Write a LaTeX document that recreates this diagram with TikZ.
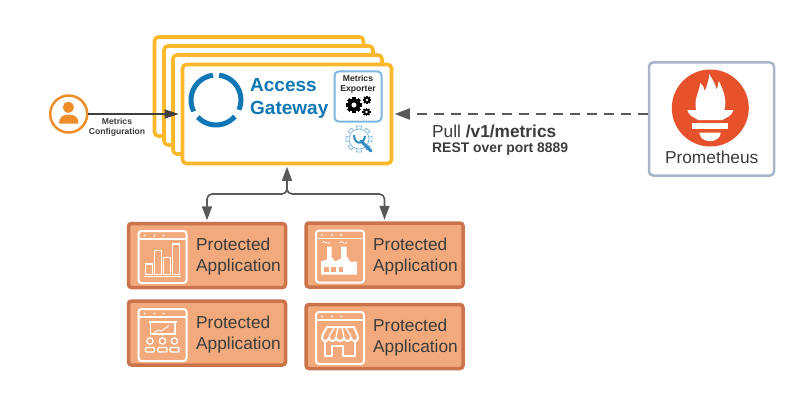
\documentclass[tikz,border=0pt]{standalone}
\usepackage{fontspec}
\setmainfont{Liberation Sans}
\usetikzlibrary{positioning,arrows.meta,calc}

\definecolor{gateyellow}{HTML}{FBB82A}
\definecolor{gateblue}{HTML}{0F78B4}
\definecolor{skyline}{HTML}{7DB6E0}
\definecolor{apporange}{HTML}{F2AA7C}
\definecolor{appedge}{HTML}{CB744C}
\definecolor{personorange}{HTML}{EE8E2A}
\definecolor{promred}{HTML}{E6522C}
\definecolor{promedge}{HTML}{A9B5C9}
\definecolor{flowgray}{HTML}{5A5A5A}
\definecolor{textdark}{HTML}{3C3C3C}

\tikzset{
    gatebox/.style={draw=gateyellow, line width=3.6pt, fill=white, rounded corners=4pt, minimum width=209pt, minimum height=99pt},
    appbox/.style={draw=appedge, line width=3.5pt, fill=apporange, rounded corners=3pt, minimum width=157pt, minimum height=64pt},
    applabel/.style={anchor=west, align=left, text=textdark, inner sep=0pt, font=\fontsize{17.3}{21}\selectfont},
    smalllabel/.style={align=center, text=textdark, inner sep=0pt, font=\fontsize{8.6}{10.4}\selectfont\bfseries},
    flow/.style={draw=flowgray, line width=1.6pt, -{Triangle[length=14pt,width=10pt]}, shorten >=1.5pt},
    iconline/.style={draw=white, line width=1.2pt},
    appframe/.pic={
        \draw[white, line width=2pt, rounded corners=3pt] (-24,-26) rectangle (24,26);
        \draw[iconline] (-24,-18) -- (24,-18);
        \foreach \dotx in {-18,-8,1}
            \fill[white] (\dotx,-21.5) circle (1pt);
    },
    % radius is given by the two pic options, teeth keep their place on the rim
    gearshape/.pic={
        \foreach \toothangle in {0,45,...,135}
            \fill[black, rotate=\toothangle] (-0.24,-1.15) rectangle (0.24,1.15);
        \fill[black] (0,0) circle (0.9);
        \fill[white] (0,0) circle (0.36);
    },
}

\begin{document}
\begin{tikzpicture}[x=1pt, y=-1pt]
    \path[use as bounding box, fill=white] (0,0) rectangle (799,401);

    % Gateway stack
    \node[gatebox] (stacka) at (259,86.5) {};
    \node[gatebox] (stackb) at (268.5,95.5) {};
    \node[gatebox] (stackc) at (277.5,104.5) {};
    \node[gatebox] (gateway) at (287,114) {};

    % Ring logo
    \coordinate (ring) at (216,100);
    \foreach \ringfrom/\ringto in {83/-23,-41/-137,-153/-263}
        \draw[gateblue, line width=5pt] ([shift={(\ringfrom:25pt)}]ring) arc[start angle=\ringfrom, end angle=\ringto, radius=25pt];
    \node[anchor=west, align=left, text=gateblue, inner sep=0pt, font=\fontsize{19}{23}\selectfont\bfseries] (gatetitle) at (250,98.5) {Access\\Gateway};

    % Metrics exporter
    \node[draw=skyline, line width=2pt, fill=white, rounded corners=4pt, minimum width=47pt, minimum height=50pt] (exporter) at (358,96.5) {};
    \node[smalllabel, text=black!85] (exportertext) at (358,84.5) {Metrics\\Exporter};
    \pic[scale=7] at (354,105) {gearshape};
    \pic[scale=3.6] at (367,100) {gearshape};
    \pic[scale=3.6] at (366.5,112) {gearshape};

    % Settings gear and wrench
    \coordinate (settings) at (359,139);
    \foreach \toothangle in {0,45,...,315}
        \draw[skyline, line width=0.7pt, rotate around={\toothangle:(settings)}] ($(settings)+(-2,-10)$) -- ($(settings)+(-2.5,-13)$) -- ($(settings)+(2.5,-13)$) -- ($(settings)+(2,-10)$);
    \draw[skyline, line width=0.7pt] (settings) circle (10);
    \draw[gateblue!70!skyline, line width=3pt, line cap=round] (361,141) -- (371,151);
    \draw[gateblue!70!skyline, line width=2pt] (354,135) .. controls (354,145) and (364,145) .. (365,136);

    % Person
    \node[draw=personorange, line width=2.5pt, fill=white, circle, minimum size=37pt, inner sep=0pt] (person) at (68.7,114) {};
    \fill[personorange] (68.4,107.3) circle (5.6);
    \fill[personorange] (59,123.5) .. controls (59,117) and (63,114.5) .. (68.7,114.5) .. controls (74.5,114.5) and (78.5,117) .. (78.5,123.5) -- cycle;
    \draw[draw=black!75, line width=1.1pt, -{Triangle[length=14pt,width=9pt]}, shorten >=2pt] (person) -- (gateway.west |- person);
    \node[smalllabel] (configtext) at (117,127) {Metrics\\Configuration};

    % Prometheus
    \node[draw=promedge, line width=2.5pt, fill=white, rounded corners=4pt, minimum width=125pt, minimum height=113pt] (prom) at (711.5,119) {};
    \node[circle, fill=promred, minimum size=77pt, inner sep=0pt] (promlogo) at (710.3,108) {};
    \begin{scope}[shift={(promlogo.center)}]
        \fill[white] (-14,2) .. controls (-17,-8) and (-11,-16) .. (-10,-25) .. controls (-7,-22) and (-6,-20) .. (-5.5,-17) .. controls (-3,-23) and (-1.5,-28) .. (-1,-34) .. controls (3,-27) and (5,-24) .. (6.5,-18) .. controls (7,-21) and (8,-24) .. (8.5,-27) .. controls (13,-18) and (17,-8) .. (14,2) -- cycle;
        \fill[white] (-23,2) -- (23,2) .. controls (22,8) and (15,10) .. (12,12) -- (-12,12) .. controls (-15,10) and (-22,8) .. (-23,2) -- cycle;
        \fill[white] (-18,15) rectangle (17.5,21);
        \fill[white] (-11,24.5) -- (10.5,24.5) .. controls (10,36) and (-10.5,36) .. (-11,24.5) -- cycle;
    \end{scope}
    \node[text=textdark, inner sep=0pt, font=\fontsize{17.3}{21}\selectfont] (promtext) at (711.7,157) {Prometheus};

    % Pull arrow
    \draw[flow, line width=2pt, dash pattern=on 10pt off 7pt, -{Triangle[length=15pt,width=11pt]}] (prom.west |- gateway) -- (gateway.east);
    \node[anchor=west, text=textdark, inner sep=0pt, font=\fontsize{17.3}{21}\selectfont] (pulltext) at (432,131) {Pull \textbf{/v1/metrics}};
    \node[anchor=west, text=textdark, inner sep=0pt, font=\fontsize{13.9}{17}\selectfont\bfseries] (resttext) at (432,149.5) {REST over port 8889};

    % Protected applications
    \node[appbox] (appa) at (207,255.5) {};
    \node[appbox] (appb) at (384.5,255) {};
    \node[appbox] (appc) at (207,333) {};
    \node[appbox] (appd) at (384.5,336.5) {};
    \node[applabel] (labela) at (196,257) {Protected\\Application};
    \node[applabel] (labelb) at (373,256.5) {Protected\\Application};
    \node[applabel] (labelc) at (196,335) {Protected\\Application};
    \node[applabel] (labeld) at (373,338) {Protected\\Application};

    % Bar chart icon
    \pic at (162.5,257) {appframe};
    \begin{scope}[shift={(162.5,257)}]
        \draw[iconline] (-19,19.7) -- (18,19.7);
        \foreach \barleft/\bartop in {-16.7/7,-7.7/-6.3,1.3/0.3,10.3/-13}
            \draw[iconline] (\barleft,17.3) rectangle (\barleft+6.7,\bartop);
    \end{scope}

    % Factory icon
    \pic at (340,256.5) {appframe};
    \begin{scope}[shift={(340,256.5)}]
        \fill[white] (-19,18) -- (-19,5) -- (-13,3) -- (-13,-10) -- (-8.5,-10) -- (-8.5,1) -- (-8,1) -- (-5,5) -- (1,2) -- (1,-10) -- (6.5,-10) -- (6.5,0) -- (7,0) -- (10,5) -- (17,5) -- (17,18) -- cycle;
        \foreach \winx in {-15.7,-8.7,-1.3}
            \fill[apporange] (\winx,10) rectangle (\winx+4.4,15);
        \draw[white, line width=0.7pt] (-18,-14) .. controls (-15,-17) and (-13,-11) .. (-10,-14);
        \draw[white, line width=0.7pt] (-1,-14) .. controls (2,-17) and (4,-11) .. (7,-14);
    \end{scope}

    % Training icon
    \pic at (162.5,335) {appframe};
    \begin{scope}[shift={(162.5,335)}]
        \draw[iconline] (-13.5,-13) -- (14,-13);
        \draw[iconline] (-12,-13) rectangle (12.5,-1);
        \draw[white, line width=0.9pt] (-8.5,-2.5) -- (-4,-5) -- (-1,-4) -- (6.5,-9.5);
        \draw[white, line width=0.7pt] (0,-1) -- (0,1);
        \foreach \peoplex in {-12.5,0,12}{
            \draw[iconline] (\peoplex,6) circle (3.2);
            \draw[iconline, rounded corners=1pt] (\peoplex-4.5,12.5) rectangle (\peoplex+4.5,17);
        }
    \end{scope}

    % Shop icon
    \pic at (340,338) {appframe};
    \begin{scope}[shift={(340,338)}]
        \draw[white, line width=2pt, line join=round] (-13,-11) -- (14,-11) .. controls (16,-6) and (18,-2) .. (18,0) .. controls (18,4) and (12,4) .. (11,0) .. controls (10,4) and (5,4) .. (4,0) .. controls (3,4) and (-3,4) .. (-4,0) .. controls (-5,4) and (-10,4) .. (-11,0) .. controls (-12,4) and (-18,4) .. (-18,0) .. controls (-18,-2) and (-16,-6) .. (-13,-11) -- cycle;
        \foreach \stripebot/\stripetop in {-11/-6,-4/-2,4/2,11/6}
            \draw[white, line width=1.3pt] (\stripebot,0) .. controls (\stripebot,-4) and (\stripetop,-8) .. (\stripetop,-11);
        \draw[white, line width=2pt, line join=round] (-15,3) -- (-15,18) -- (-8,18) -- (-8,7.5) -- (3,7.5) -- (3,18) -- (15,18) -- (15,3);
    \end{scope}

    % Arrows to applications
    \coordinate (fork) at (287,188);
    \coordinate (rail) at (287,194);
    \draw[flow] (fork) -- (gateway.south);
    \draw[flow, rounded corners=5pt] (fork) -- (rail) -| (appa.north);
    \draw[flow, rounded corners=5pt] (fork) -- (rail) -| (appb.north);
\end{tikzpicture}
\end{document}
